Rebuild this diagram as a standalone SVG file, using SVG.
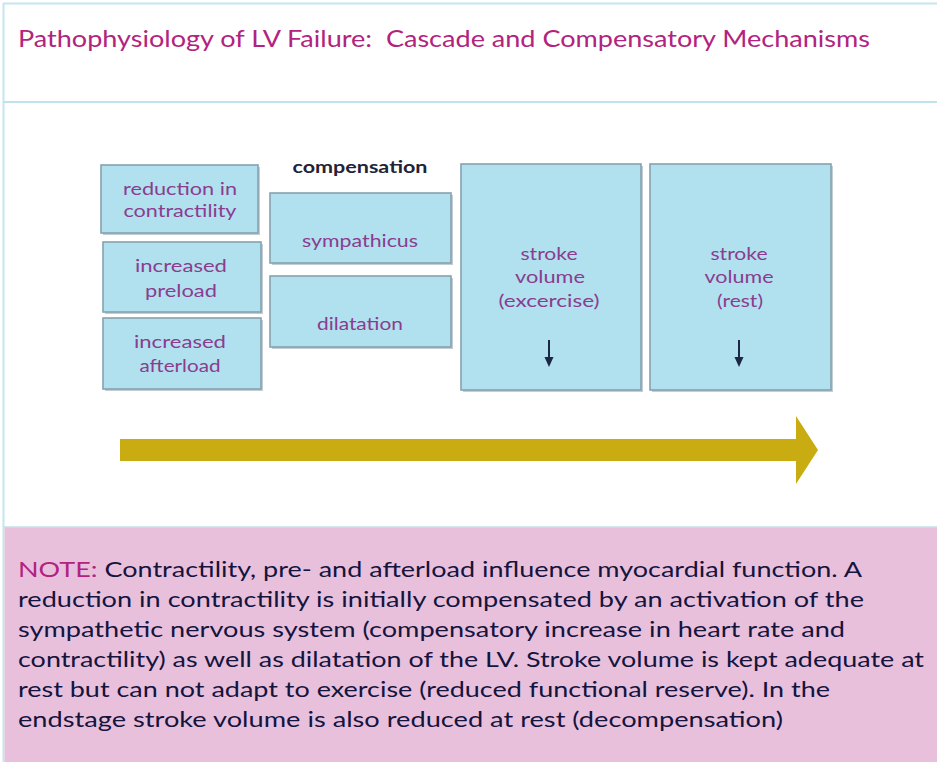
<svg xmlns="http://www.w3.org/2000/svg" width="937" height="762" viewBox="0 0 937 762">
<defs>
<style>
.box{fill:#b1e0ef;stroke:#86a2ae;stroke-width:1.6}
.shadow{fill:#9aaeb6;opacity:0.6}
.lbl{font-family:Lato,"Open Sans","Liberation Sans",sans-serif;font-size:18px;fill:#8a3d8e;text-anchor:middle}
.note{font-family:Lato,"Open Sans","Liberation Sans",sans-serif;font-size:22px;fill:#14143e}
.hdr{font-family:Lato,"Open Sans","Liberation Sans",sans-serif;font-size:23px;fill:#b2237e}
.dnl{stroke:#1c2747;stroke-width:2}
.dnh{fill:#1c2747}
</style>
</defs>
<rect x="0" y="0" width="937" height="762" fill="#ffffff"/>
<g id="frame">
<line x1="3.5" y1="3" x2="3.5" y2="762" stroke="#c4e6ee" stroke-width="2"/>
<line x1="3" y1="3.5" x2="937" y2="3.5" stroke="#c4e6ee" stroke-width="2"/>
<line x1="3" y1="102" x2="937" y2="102" stroke="#bfe3ec" stroke-width="2"/>
<rect x="4.5" y="527" width="932.5" height="235" fill="#e8c0dc"/>
<line x1="4" y1="527" x2="937" y2="527" stroke="#c6dfe8" stroke-width="1.5"/>
</g>
<g id="title">
<text class="hdr" x="18" y="47" xml:space="preserve" textLength="852" lengthAdjust="spacingAndGlyphs">Pathophysiology of LV Failure:  Cascade and Compensatory Mechanisms</text>
</g>
<g id="node-reduction">
<rect class="shadow" x="103" y="167" width="157" height="68"/>
<rect class="box" x="101" y="165" width="157" height="68"/>
<text class="lbl" x="180" y="195" textLength="114" lengthAdjust="spacingAndGlyphs">reduction in</text>
<text class="lbl" x="180" y="217" textLength="113" lengthAdjust="spacingAndGlyphs">contractility</text>
</g>
<g id="node-preload">
<rect class="shadow" x="105" y="244" width="158" height="70"/>
<rect class="box" x="103" y="242" width="158" height="70"/>
<text class="lbl" x="181" y="272" textLength="92" lengthAdjust="spacingAndGlyphs">increased</text>
<text class="lbl" x="181" y="297" textLength="72" lengthAdjust="spacingAndGlyphs">preload</text>
</g>
<g id="node-afterload">
<rect class="shadow" x="105" y="320" width="158" height="71"/>
<rect class="box" x="103" y="318" width="158" height="71"/>
<text class="lbl" x="180" y="348" textLength="92" lengthAdjust="spacingAndGlyphs">increased</text>
<text class="lbl" x="180" y="372" textLength="81" lengthAdjust="spacingAndGlyphs">afterload</text>
</g>
<g id="label-compensation">
<text x="360" y="173" font-family="Lato,'Open Sans','Liberation Sans',sans-serif" font-size="17" font-weight="bold" fill="#232338" text-anchor="middle" textLength="135" lengthAdjust="spacingAndGlyphs">compensation</text>
</g>
<g id="node-sympathicus">
<rect class="shadow" x="272" y="195" width="181" height="70"/>
<rect class="box" x="270" y="193" width="181" height="70"/>
<text class="lbl" x="360" y="247" textLength="116" lengthAdjust="spacingAndGlyphs">sympathicus</text>
</g>
<g id="node-dilatation">
<rect class="shadow" x="272" y="278" width="181" height="71"/>
<rect class="box" x="270" y="276" width="181" height="71"/>
<text class="lbl" x="360" y="330" textLength="86" lengthAdjust="spacingAndGlyphs">dilatation</text>
</g>
<g id="node-sv-exercise">
<rect class="shadow" x="463" y="166" width="180" height="226"/>
<rect class="box" x="461" y="164" width="180" height="226"/>
<text class="lbl" x="549" y="260" textLength="57" lengthAdjust="spacingAndGlyphs">stroke</text>
<text class="lbl" x="550" y="283" textLength="70" lengthAdjust="spacingAndGlyphs">volume</text>
<text class="lbl" x="549" y="307" textLength="101" lengthAdjust="spacingAndGlyphs">(excercise)</text>
</g>
<g id="node-sv-rest">
<rect class="shadow" x="652" y="166" width="181" height="226"/>
<rect class="box" x="650" y="164" width="181" height="226"/>
<text class="lbl" x="739" y="260" textLength="57" lengthAdjust="spacingAndGlyphs">stroke</text>
<text class="lbl" x="739" y="283" textLength="69" lengthAdjust="spacingAndGlyphs">volume</text>
<text class="lbl" x="740" y="307" textLength="46" lengthAdjust="spacingAndGlyphs">(rest)</text>
</g>
<g id="connectors">
<line class="dnl" x1="549" y1="340" x2="549" y2="360"/>
<path class="dnh" d="M544.5,357 L553.5,357 L549,367 Z"/>
<line class="dnl" x1="739" y1="340" x2="739" y2="360"/>
<path class="dnh" d="M734.5,357 L743.5,357 L739,367 Z"/>
<path d="M120,439 L796,439 L796,416 L818,450 L796,484 L796,461 L120,461 Z" fill="#c8ac12"/>
</g>
<g id="note">
<text class="note" x="18" y="577" textLength="844" lengthAdjust="spacingAndGlyphs"><tspan fill="#b2237e">NOTE:</tspan> Contractility, pre- and afterload influence myocardial function. A</text>
<text class="note" x="18" y="607" textLength="846" lengthAdjust="spacingAndGlyphs">reduction in contractility is initially compensated by an activation of the</text>
<text class="note" x="18" y="637" textLength="827" lengthAdjust="spacingAndGlyphs">sympathetic nervous system (compensatory increase in heart rate and</text>
<text class="note" x="18" y="667" textLength="906" lengthAdjust="spacingAndGlyphs">contractility) as well as dilatation of the LV. Stroke volume is kept adequate at</text>
<text class="note" x="18" y="697" textLength="812" lengthAdjust="spacingAndGlyphs">rest but can not adapt to exercise (reduced functional reserve). In the</text>
<text class="note" x="18" y="727" textLength="765" lengthAdjust="spacingAndGlyphs">endstage stroke volume is also reduced at rest (decompensation)</text>
</g>
</svg>
